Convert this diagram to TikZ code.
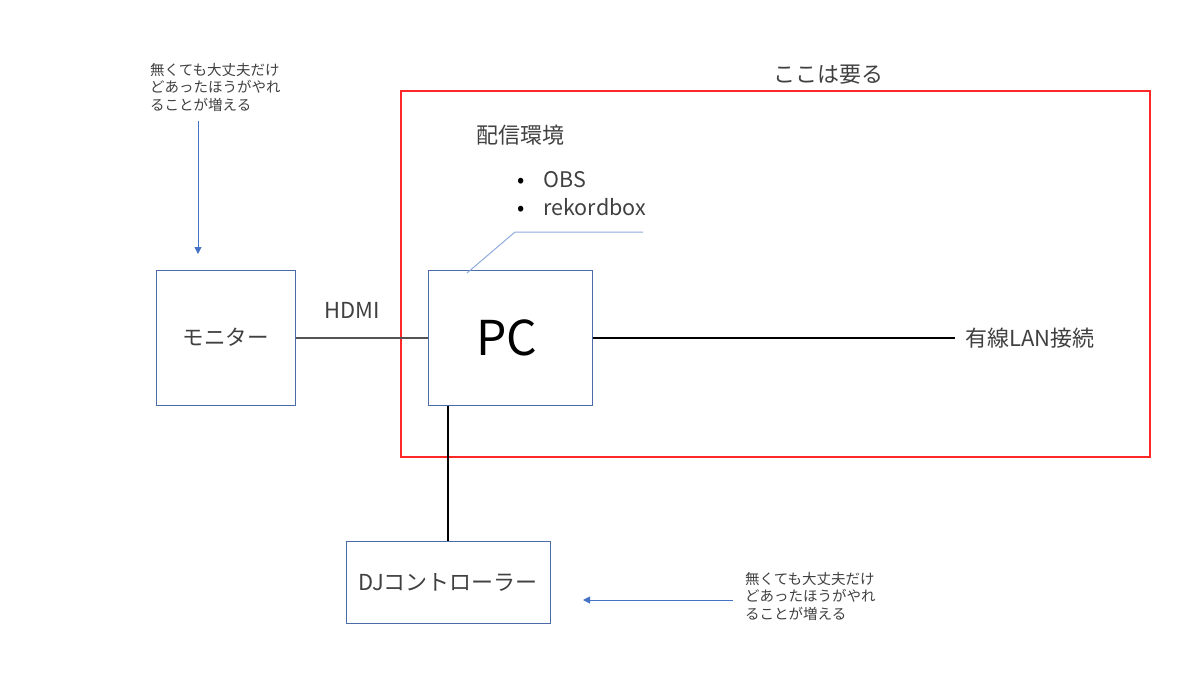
\documentclass[tikz,border=0pt]{standalone}
\usepackage{fontspec}
\setmainfont{Noto Sans CJK JP}
\usetikzlibrary{arrows.meta}
\definecolor{boxblue}{HTML}{4A6AA8}
\definecolor{arrblue}{HTML}{4472C4}
\definecolor{calblue}{HTML}{8FAADC}
\definecolor{txt}{HTML}{404040}
\definecolor{regionred}{RGB}{255,40,40}
\tikzset{
  devbox/.style={draw=boxblue, line width=1pt, inner sep=0pt, text=txt},
  note/.style={text=txt, font=\fontsize{14.5}{17.5}\selectfont, align=left, inner sep=0pt, anchor=north west},
  lbl/.style={text=txt, inner sep=0pt},
  arr/.style={draw=arrblue, line width=1pt, -{Triangle[width=7pt,length=7pt]}},
}
\begin{document}
\begin{tikzpicture}[x=1pt,y=-1pt]
\useasboundingbox (0,0) rectangle (1200,675);
% red region
\draw[draw=regionred, line width=1.2pt] (401,91) rectangle (1150,457);
\node[lbl, font=\fontsize{22}{22}\selectfont] (need) at (828,75) {ここは要る};
% boxes
\node[devbox, minimum width=139pt, minimum height=135pt, font=\fontsize{21.5}{21.5}\selectfont] (mon) at (225.5,337.5) {モニター};
\node[devbox, minimum width=164pt, minimum height=135pt, text=black] (pc) at (510,337.5) {};
\node[lbl, font=\fontsize{48}{48}\selectfont, text=black] (pclabel) at (507,337.5) {PC};
\node[devbox, minimum width=204pt, minimum height=82pt, font=\fontsize{22}{22}\selectfont] (dj) at (448,582) {DJコントローラー};
% connectors
\draw[draw=txt!90, line width=1.2pt] (mon.east |- 0,338) -- (pc.west |- 0,338);
\node[lbl, font=\fontsize{22}{22}\selectfont] (hdmi) at (352,310) {HDMI};
\coordinate (lanend) at (955,338);
\draw[black, line width=2pt] (pc.east |- 0,338) -- (lanend);
\node[lbl, font=\fontsize{22}{22}\selectfont, anchor=west] (lan) at (965,338) {有線LAN接続};
\draw[black, line width=2pt] (448,0 |- pc.south) -- (448,0 |- dj.north);
% environment text
\node[lbl, font=\fontsize{22}{22}\selectfont, anchor=west] (env) at (476,135) {配信環境};
\node[lbl, font=\fontsize{21.5}{21.5}\selectfont, anchor=west] (b1) at (517,180) {{\color{black}\textbullet}\hspace{19pt}OBS};
\node[lbl, font=\fontsize{21.5}{21.5}\selectfont, anchor=west] (b2) at (517,207) {{\color{black}\textbullet}\hspace{19pt}rekordbox};
\coordinate (c1) at (467,273);
\coordinate (c2) at (515,232);
\coordinate (c3) at (643,232);
\draw[calblue, line width=1pt] (c1) -- (c2) -- (c3);
% annotations
\node[note] (n1) at (150,63) {無くても大丈夫だけ\\どあったほうがやれ\\ることが増える};
\coordinate (a1s) at (198,121);
\coordinate (a1e) at (198,254);
\draw[arr] (a1s) -- (a1e);
\node[note] (n2) at (745,572) {無くても大丈夫だけ\\どあったほうがやれ\\ることが増える};
\coordinate (a2s) at (733,600);
\coordinate (a2e) at (583,600);
\draw[arr] (a2s) -- (a2e);
\end{tikzpicture}
\end{document}
